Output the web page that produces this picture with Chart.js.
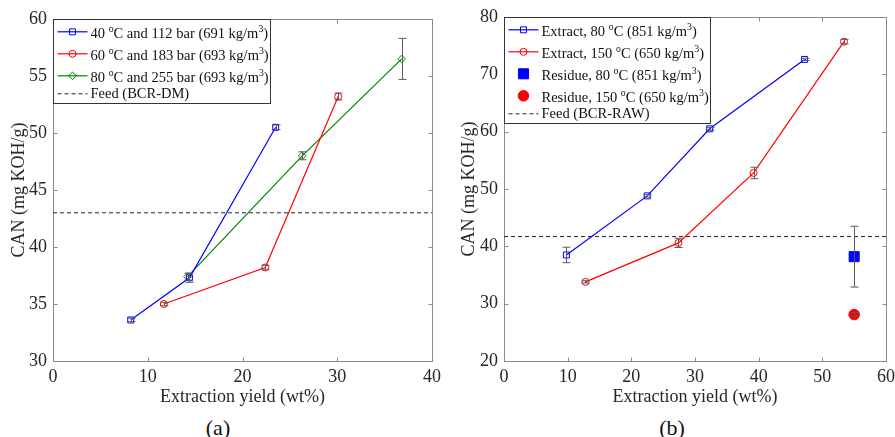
<!DOCTYPE html>
<html>
<head>
<meta charset="utf-8">
<script src="https://cdn.jsdelivr.net/npm/chart.js@4.4.1/dist/chart.umd.min.js"></script>
<style>
  body { margin: 0; background: #fff; width: 895px; height: 437px; position: relative; overflow: hidden; font-family: "Liberation Serif", "Times New Roman", serif; }
  .panel { position: absolute; top: 0; }
  .cap { position: absolute; top: 416px; font-size: 22px; line-height: 24px; color: #111; transform: translateX(-50%); }
</style>
</head>
<body>
<div class="panel" style="left:0"><canvas id="chartA" width="450" height="412"></canvas></div>
<div class="panel" style="left:450px"><canvas id="chartB" width="445" height="412"></canvas></div>
<div class="cap" style="left:218px">(a)</div>
<div class="cap" style="left:672px">(b)</div>
<script>
// panel (a)
const yieldA40 = [8.2, 14.4, 23.5];
const canA40 = [33.6, 37.3, 50.5];
const errA40 = [0.15, 0.4, 0.2];
const yieldA60 = [11.7, 22.4, 30.1];
const canA60 = [35.0, 38.2, 53.2];
const errA60 = [0.15, 0.2, 0.3];
const yieldA80 = [14.2, 26.3, 36.8];
const canA80 = [37.4, 48.0, 56.5];
const errA80 = [0.3, 0.35, 1.8];
const feedA = 43.0;
const xTicksA = [0, 10, 20, 30, 40];
const yTicksA = [30, 35, 40, 45, 50, 55, 60];
const labelsA = ['40 ^oC and 112 bar (691 kg/m^3)', '60 ^oC and 183 bar (693 kg/m^3)',
                 '80 ^oC and 255 bar (693 kg/m^3)', 'Feed (BCR-DM)'];

// panel (b)
const yieldB80 = [9.8, 22.5, 32.3, 47.2];
const canB80 = [38.5, 48.8, 60.5, 72.6];
const errB80 = [1.35, 0.2, 0.25, 0.2];
const yieldB150 = [12.8, 27.4, 39.2, 53.4];
const canB150 = [33.8, 40.6, 52.8, 75.7];
const errB150 = [0.2, 0.8, 1.0, 0.4];
const yieldRes = [55.0];
const canRes80 = [38.2];
const errRes80 = [5.3];
const canRes150 = [28.1];
const errRes150 = [0.35];
const feedB = 41.7;
const xTicksB = [0, 10, 20, 30, 40, 50, 60];
const yTicksB = [20, 30, 40, 50, 60, 70, 80];
const labelsB = ['Extract, 80 ^oC (851 kg/m^3)', 'Extract, 150 ^oC (650 kg/m^3)',
                 'Residue, 80 ^oC (851 kg/m^3)', 'Residue, 150 ^oC (650 kg/m^3)', 'Feed (BCR-RAW)'];

const FONT = '"Liberation Serif", "Times New Roman", serif';
const AXIS_COL = '#8a8a8a';
const TEXT_COL = '#262626';

const pts = (xs, ys) => xs.map((x, i) => ({ x: x, y: ys[i] }));

function markerPath(ctx, style, r, x, y) {
  ctx.beginPath();
  if (style === 'rect') {
    const s = Math.SQRT1_2 * r;
    ctx.rect(x - s, y - s, 2 * s, 2 * s);
  } else if (style === 'rectRot') {
    ctx.moveTo(x, y - r); ctx.lineTo(x + r, y); ctx.lineTo(x, y + r); ctx.lineTo(x - r, y); ctx.closePath();
  } else {
    ctx.arc(x, y, r, 0, Math.PI * 2);
  }
}

// gray error bars with caps
const errorBars = {
  id: 'errorBars',
  afterDatasetsDraw(chart) {
    const ctx = chart.ctx, xs = chart.scales.x, ys = chart.scales.y;
    ctx.save();
    ctx.strokeStyle = '#5a5a5a';
    ctx.lineWidth = 1;
    chart.data.datasets.forEach(ds => {
      if (!ds.errors) return;
      ds.data.forEach((p, i) => {
        const e = ds.errors[i];
        const px = Math.round(xs.getPixelForValue(p.x)) + 0.5;
        const top = ys.getPixelForValue(p.y + e), bot = ys.getPixelForValue(p.y - e);
        ctx.beginPath();
        ctx.moveTo(px, top); ctx.lineTo(px, bot);
        ctx.moveTo(px - 4, top); ctx.lineTo(px + 4, top);
        ctx.moveTo(px - 4, bot); ctx.lineTo(px + 4, bot);
        ctx.stroke();
      });
    });
    ctx.restore();
  }
};

// matlab style box with inward ticks
const frame = {
  id: 'frame',
  beforeDatasetsDraw(chart) {
    const ctx = chart.ctx, a = chart.chartArea, xs = chart.scales.x, ys = chart.scales.y;
    const l = Math.round(a.left) + 0.5, r = Math.round(a.right) + 0.5;
    const t = Math.round(a.top) + 0.5, b = Math.round(a.bottom) + 0.5;
    ctx.save();
    ctx.strokeStyle = AXIS_COL;
    ctx.lineWidth = 1;
    ctx.strokeRect(l, t, r - l, b - t);
    ctx.beginPath();
    xs.ticks.forEach(tk => {
      const x = Math.round(xs.getPixelForValue(tk.value)) + 0.5;
      ctx.moveTo(x, b); ctx.lineTo(x, b - 4);
      ctx.moveTo(x, t); ctx.lineTo(x, t + 4);
    });
    ys.ticks.forEach(tk => {
      const y = Math.round(ys.getPixelForValue(tk.value)) + 0.5;
      ctx.moveTo(l, y); ctx.lineTo(l + 4, y);
      ctx.moveTo(r, y); ctx.lineTo(r - 4, y);
    });
    ctx.stroke();
    ctx.restore();
  }
};

// text with ^x superscripts
function drawRich(ctx, str, x, y, size) {
  const parts = str.split('^');
  let cx = x;
  parts.forEach((part, i) => {
    let main = part;
    if (i > 0) {
      ctx.font = (size * 0.68) + 'px ' + FONT;
      ctx.fillText(part[0], cx, y - size * 0.45);
      cx += ctx.measureText(part[0]).width;
      main = part.slice(1);
    }
    ctx.font = size + 'px ' + FONT;
    ctx.fillText(main, cx, y);
    cx += ctx.measureText(main).width;
  });
  return cx - x;
}

const boxLegend = {
  id: 'boxLegend',
  afterDraw(chart) {
    const ctx = chart.ctx, a = chart.chartArea;
    const size = 14.5;
    const dss = chart.data.datasets;
    const rows = [];
    let y = a.top + 12.8;
    dss.forEach((ds, i) => {
      const sup = ds.label.indexOf('^') >= 0;
      if (i > 0) y += sup ? 22 : 18;
      rows.push({ ds: ds, y: y, sup: sup });
    });
    ctx.save();
    ctx.font = size + 'px ' + FONT;
    let maxW = 0;
    rows.forEach(rw => {
      ctx.globalAlpha = 0;
      maxW = Math.max(maxW, drawRich(ctx, rw.ds.label, 0, 0, size));
    });
    ctx.globalAlpha = 1;
    const l = Math.round(a.left) + 0.5, t = Math.round(a.top) + 0.5;
    const w = Math.round(36 + maxW + 3), h = Math.round(y - a.top + 9);
    ctx.fillStyle = '#fff';
    ctx.fillRect(l, t, w, h);
    ctx.strokeStyle = '#333';
    ctx.lineWidth = 1;
    ctx.strokeRect(l, t, w, h);
    rows.forEach(rw => {
      const ds = rw.ds;
      const ry = rw.y;
      if (ds.showLine !== false) {
        ctx.save();
        ctx.strokeStyle = ds.borderColor;
        ctx.lineWidth = ds.borderWidth || 1;
        ctx.setLineDash(ds.borderDash || []);
        ctx.beginPath();
        ctx.moveTo(l + 4, ry); ctx.lineTo(l + 34, ry);
        ctx.stroke();
        ctx.restore();
      }
      if (ds.pointRadius > 0) {
        markerPath(ctx, ds.pointStyle, ds.pointRadius, l + 19, ry);
        ctx.fillStyle = ds.pointBackgroundColor;
        ctx.fill();
        ctx.strokeStyle = ds.pointBorderColor;
        ctx.lineWidth = 1;
        ctx.stroke();
      }
      ctx.fillStyle = '#111';
      ctx.textBaseline = 'alphabetic';
      drawRich(ctx, ds.label, l + 37, ry + (rw.sup ? 6.3 : 4.6), size);
    });
    ctx.restore();
  }
};

function series(label, data, errs, color, style, radius, line) {
  return {
    label: label, data: data, errors: errs,
    borderColor: color, borderWidth: 1.2, showLine: line,
    pointStyle: style, pointRadius: radius, pointHoverRadius: radius,
    pointBorderColor: color, pointBorderWidth: 1,
    pointBackgroundColor: line ? 'rgba(255,255,255,0)' : color
  };
}

function feed(label, value, xTicks) {
  return {
    label: label,
    data: [{ x: xTicks[0], y: value }, { x: xTicks[xTicks.length - 1], y: value }],
    borderColor: '#222', borderWidth: 1, borderDash: [4, 3],
    pointRadius: 0, showLine: true
  };
}

function makeChart(id, datasets, xTicks, yTicks, pad, yWidth) {
  return new Chart(document.getElementById(id), {
    type: 'scatter',
    data: { datasets: datasets },
    options: {
      responsive: false,
      animation: false,
      layout: { padding: pad },
      plugins: { legend: { display: false }, tooltip: { enabled: false } },
      scales: {
        x: {
          type: 'linear',
          min: xTicks[0], max: xTicks[xTicks.length - 1],
          grid: { display: false, drawTicks: false },
          border: { display: false },
          ticks: { color: TEXT_COL, font: { family: FONT, size: 18 }, padding: 5 },
          afterBuildTicks: s => { s.ticks = xTicks.map(v => ({ value: v })); },
          afterFit: s => { s.height = 51; s.paddingLeft = 0; s.paddingRight = 0; },
          title: { display: true, text: 'Extraction yield (wt%)', color: TEXT_COL,
                   font: { family: FONT, size: 18 }, padding: { top: 4, bottom: 4 } }
        },
        y: {
          type: 'linear',
          min: yTicks[0], max: yTicks[yTicks.length - 1],
          grid: { display: false, drawTicks: false },
          border: { display: false },
          ticks: { color: TEXT_COL, font: { family: FONT, size: 18 }, padding: 6 },
          afterBuildTicks: s => { s.ticks = yTicks.map(v => ({ value: v })); },
          afterFit: s => { s.width = yWidth; s.paddingTop = 0; s.paddingBottom = 0; },
          title: { display: true, text: 'CAN (mg KOH/g)', color: TEXT_COL,
                   font: { family: FONT, size: 18 }, padding: { top: 8, bottom: 4 } }
        }
      }
    },
    plugins: [frame, errorBars, boxLegend]
  });
}

makeChart('chartA', [
  series(labelsA[0], pts(yieldA40, canA40), errA40, '#0000ff', 'rect', 4.2, true),
  series(labelsA[1], pts(yieldA60, canA60), errA60, '#ff0000', 'circle', 3.5, true),
  series(labelsA[2], pts(yieldA80, canA80), errA80, '#008000', 'rectRot', 3.8, true),
  feed(labelsA[3], feedA, xTicksA)
], xTicksA, yTicksA, { top: 19, right: 18, left: 0, bottom: 0 }, 53);

makeChart('chartB', [
  series(labelsB[0], pts(yieldB80, canB80), errB80, '#0000ff', 'rect', 4.2, true),
  series(labelsB[1], pts(yieldB150, canB150), errB150, '#ff0000', 'circle', 3.5, true),
  series(labelsB[2], pts(yieldRes, canRes80), errRes80, '#0000ff', 'rect', 7.1, false),
  series(labelsB[3], pts(yieldRes, canRes150), errRes150, '#ff0000', 'circle', 5.3, false),
  feed(labelsB[4], feedB, xTicksB)
], xTicksB, yTicksB, { top: 17, right: 9, left: 0, bottom: 0 }, 54);
</script>
</body>
</html>
